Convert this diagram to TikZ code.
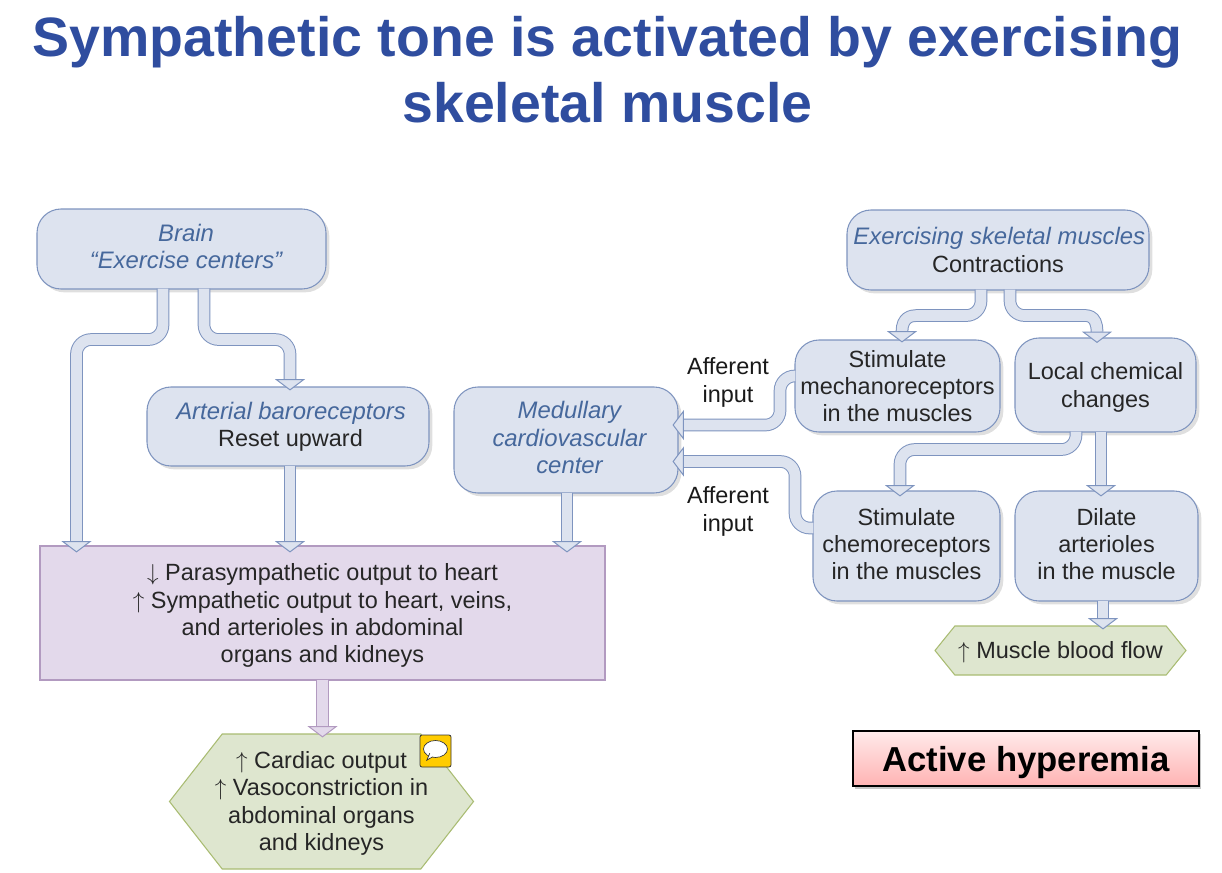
\documentclass[tikz,border=0pt]{standalone}
\usepackage{fontspec}
\setmainfont{Liberation Sans}
\usetikzlibrary{calc,arrows.meta,shapes.symbols,shapes.geometric,shadows,positioning}
\definecolor{titleBlue}{RGB}{47,77,159}
\definecolor{stFill}{RGB}{221,227,239}
\definecolor{stEdge}{RGB}{126,148,191}
\definecolor{capBlue}{RGB}{70,104,156}
\definecolor{outFill}{RGB}{227,217,235}
\definecolor{outEdge}{RGB}{178,154,192}
\definecolor{resFill}{RGB}{222,230,207}
\definecolor{resEdge}{RGB}{169,188,114}
\definecolor{noteYellow}{RGB}{255,204,0}
\newcommand{\capt}[2][0pt]{\hspace*{#1}\textcolor{capBlue}{\fontsize{17.9}{20.5}\selectfont\itshape #2}}
\newcommand{\lift}[1]{\rule[-#1]{0pt}{0pt}}
\newcommand{\drop}[1]{\rule{0pt}{#1}}

\begin{document}
\begin{tikzpicture}[x=0.75pt,y=-0.75pt,
  st/.style 2 args={rectangle,draw=stEdge,fill=stFill,rounded corners=18pt,line width=.8pt,
             minimum width=#1*0.75pt,minimum height=#2*0.75pt,inner sep=0pt,align=center,
             font=\fontsize{17.6}{20.5}\selectfont,text=black!85,
             drop shadow={shadow xshift=2.5pt,shadow yshift=-2.5pt,opacity=.25}},
  outp/.style={rectangle,draw=outEdge,fill=outFill,line width=.8pt,
             minimum width=565*0.75pt,minimum height=134*0.75pt,inner sep=0pt,align=center,
             font=\fontsize{17.6}{20.5}\selectfont,text=black!85},
  res/.style n args={3}{signal,signal to=east and west,signal pointer angle=#3,draw=resEdge,fill=resFill,
             line width=.8pt,minimum width=#1*0.75pt,minimum height=#2*0.75pt,inner sep=0pt,align=center,
             font=\fontsize{17.6}{20.5}\selectfont,text=black!85},
  lab/.style={align=center,inner sep=0pt,font=\fontsize{17.6}{20.5}\selectfont,text=black!90},
  arr/.style={draw=stEdge,line width=.75pt,double=stFill,double distance=8pt,rounded corners=11pt,
              -{Triangle[length=8.5pt,width=22.5pt,fill=stFill,color=stEdge,line width=.75pt]}},
  parr/.style={arr,draw=outEdge,double=outFill,
              -{Triangle[length=8.5pt,width=22.5pt,fill=outFill,color=outEdge,line width=.75pt]}}
]
  \useasboundingbox (0,0) rectangle (1222,872);

  \node[align=center,inner sep=0pt,text=titleBlue,font=\fontsize{41.6}{49.5}\selectfont\bfseries]
      (title) at (607.5,70) {Sympathetic tone is activated by exercising\\skeletal muscle};

  \node[st={289}{80}](brain)   at (181.5,249) {\capt[6.8pt]{Brain}\\\capt[6.8pt]{“Exercise centers”}\lift{3.8pt}};
  \node[st={282}{79}](baro)    at (288,426.5) {\capt[4.5pt]{Arterial baroreceptors}\\\hspace*{3.7pt}Reset upward};
  \node[st={224}{106}](medul)  at (566,440)   {\capt[5.2pt]{Medullary}\\\capt[5.2pt]{cardiovascular}\\\capt[5.2pt]{center}\lift{3.8pt}};
  \node[st={302}{80}](exer)    at (998,250)   {\capt[2pt]{Exercising skeletal muscles}\\Contractions};
  \node[st={205}{92}](mech)    at (897.5,386) {Stimulate\\mechanoreceptors\\in the muscles};
  \node[st={181}{94}](local)   at (1105.5,385){\drop{16.5pt}Local chemical\\changes};
  \node[st={187}{110}](chemo)  at (906.5,546) {Stimulate\\chemoreceptors\\in the muscles\lift{3pt}};
  \node[st={183}{110}](dilate) at (1106.5,546){Dilate\\arterioles\\in the muscle\lift{3pt}};

  \node[outp](output) at (322.5,613) {\drop{17.1pt}$\downarrow$ Parasympathetic output to heart\\$\uparrow$ Sympathetic output to heart, veins,\\and arterioles in abdominal\\organs and kidneys};
  \node[res={291}{135}{104},inner xsep=-5.5pt](cardiac) at (321.5,801.5) {\drop{15.8pt}$\uparrow$ Cardiac output\\$\uparrow$ Vasoconstriction in\\abdominal organs\\and kidneys};
  \node[res={251}{49}{102}](flow) at (1060.5,650.5) {\drop{15.8pt}$\uparrow$ Muscle blood flow};

  \node[lab](aff1) at (728,382.5) {Afferent\\input};
  \node[lab](aff2) at (728,511.5) {Afferent\\input};

  \draw[arr] ($(brain.south)+(-18.5,-1)$) -- ++(0,51) -| ($(output.north west)+(37,7)$);
  \draw[arr] ($(brain.south)+(22.5,-1)$) -- ++(0,51) -| ($(baro.north)+(2,4)$);
  \draw[arr] ($(baro.south)+(2,-1)$) -- ($(baro.south |- output.north)+(2,7)$);
  \draw[arr] ($(medul.south)+(1,-1)$) -- ($(medul.south |- output.north)+(1,7)$);
  \draw[parr] ($(output.south)+(0,-1)$) -- ($(output.south |- cardiac.north)+(0,4)$);

  \draw[arr] ($(exer.south)+(-17,-1)$) -- ++(0,26) -- ++(-50,0) [sharp corners]
      .. controls ++(-20,0) and ($(mech.north)+(4.5,-22)$) .. ($(mech.north)+(4.5,3)$);
  \draw[arr] ($(exer.south)+(12,-1)$) -- ++(0,26) -- ++(56,0) [sharp corners]
      .. controls ++(20,0) and ($(local.north)+(-8.5,-24)$) .. ($(local.north)+(-8.5,5.5)$);
  \draw[arr] ($(mech.west)+(1,-10)$) -| ($(medul.east)+(101.5,-15)$) -- ($(medul.east)+(-6,-15)$);
  \draw[arr] ($(chemo.west)+(1,-18)$) -| ($(medul.east)+(116.5,21.5)$) -- ($(medul.east)+(-6,21.5)$);
  \draw[arr] ($(local.south)+(-29.5,-1)$) -- ++(0,18) -| ($(chemo.north)+(-6.5,6)$);
  \draw[arr] ($(local.south)+(-4.5,-1)$) -- ($(local.south |- dilate.north)+(-4.5,6)$);
  \draw[arr] ($(dilate.south)+(-3.5,-1)$) -- ($(dilate.south |- flow.north)+(-3.5,4)$);

  \node[rectangle,draw=black,line width=.9pt,top color=red!8,bottom color=red!30,
        minimum width=346*0.75pt,minimum height=55*0.75pt,inner sep=0pt,
        font=\fontsize{26}{30}\selectfont\bfseries,
        drop shadow={shadow xshift=1.5pt,shadow yshift=-2pt,opacity=.45}](active) at (1026,758.5) {\drop{25pt}Active hyperemia};

  \node[rectangle,draw=black!80,fill=noteYellow,rounded corners=1.5pt,line width=.6pt,
        minimum width=31*0.75pt,minimum height=32*0.75pt,inner sep=0pt](note) at (435.5,751) {};
  \node[ellipse,draw=black!80,fill=white,line width=.5pt,minimum width=24*0.75pt,minimum height=17*0.75pt,
        inner sep=0pt](bubble) at (435.5,749) {};
  \draw[black!80,fill=white,line width=.5pt] ($(bubble.south west)+(3,-2)$) -- ($(bubble.south west)+(0,5)$) -- ($(bubble.south)+(-3,-1)$);
\end{tikzpicture}
\end{document}
